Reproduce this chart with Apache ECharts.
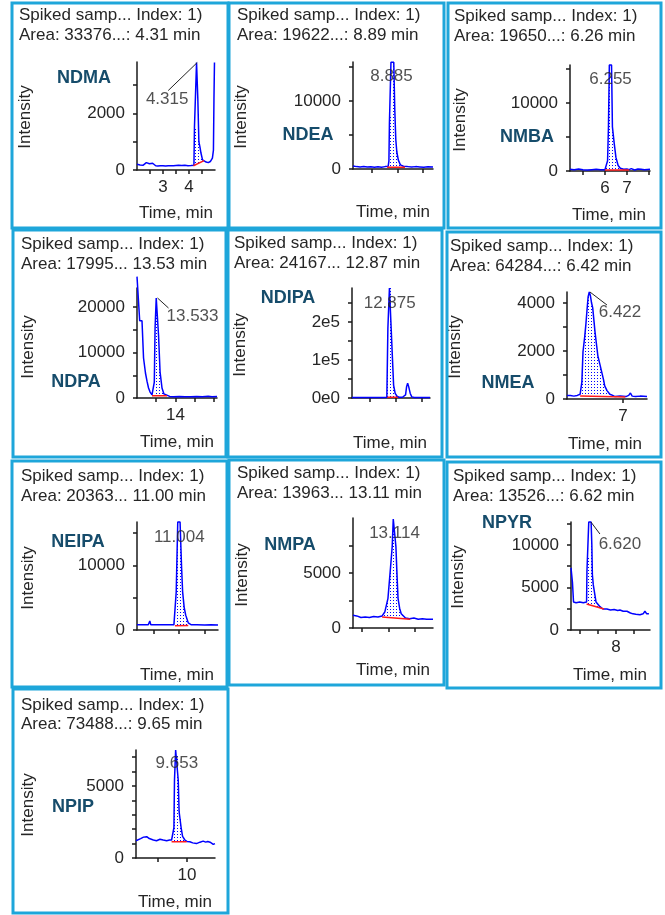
<html>
<head>
<meta charset="utf-8">
<script src="https://cdn.jsdelivr.net/npm/echarts@6/dist/echarts.min.js"></script>
</head>
<body>
<style>
    html, body, #main {
        width: 665px;
        height: 915px;
        margin: 0;
        background: #fff;
    }
</style>
<div id="main"></div>
<script>
// ---- data (time in min, intensity in cps) ----
var names = ['NDMA', 'NDEA', 'NMBA', 'NDPA', 'NDIPA', 'NMEA', 'NEIPA', 'NMPA', 'NPYR', 'NPIP'];
var headLine1 = 'Spiked samp... Index: 1)';
var headLine2 = ['Area: 33376...: 4.31 min', 'Area: 19622...: 8.89 min', 'Area: 19650...: 6.26 min',
    'Area: 17995... 13.53 min', 'Area: 24167... 12.87 min', 'Area: 64284...: 6.42 min',
    'Area: 20363... 11.00 min', 'Area: 13963... 13.11 min', 'Area: 13526...: 6.62 min',
    'Area: 73488...: 9.65 min'];

var ndmaTime = [2.0, 2.06, 2.12, 2.18, 2.24, 2.3, 2.36, 2.42, 2.48, 2.54, 2.6, 2.66, 2.72, 2.8, 2.9, 3.0, 3.1, 3.2, 3.3, 3.4, 3.5, 3.6, 3.66, 3.72, 3.78, 3.84, 3.9, 3.96, 4.02, 4.08, 4.14, 4.19, 4.21, 4.25, 4.29, 4.32, 4.34, 4.36, 4.38, 4.42, 4.46, 4.52, 4.58, 4.66, 4.74, 4.82, 4.9, 4.94, 4.96, 4.98, 5.0];
var ndmaInt = [200, 240, 180, 250, 170, 230, 260, 190, 220, 160, 240, 200, 150, 140, 150, 150, 140, 150, 150, 150, 160, 170, 230, 160, 210, 170, 220, 150, 190, 160, 200, 170, 1500, 1450, 3800, 3800, 2500, 2450, 1000, 820, 600, 360, 300, 280, 260, 300, 420, 700, 2500, 3800, 3800];
var ndmaBaseTime = [4.17, 4.58], ndmaBaseInt = [150, 330];
var ndmaApex = [4.315, 3800];

var ndeaTime = [8.13, 8.2, 8.27, 8.34, 8.41, 8.48, 8.55, 8.62, 8.69, 8.76, 8.82, 8.835, 8.845, 8.865, 8.875, 8.93, 8.95, 8.97, 8.99, 9.02, 9.06, 9.12, 9.2, 9.28, 9.36, 9.44, 9.52, 9.6, 9.7];
var ndeaInt = [450, 350, 300, 380, 280, 320, 260, 330, 270, 350, 400, 1200, 6800, 6900, 15700, 15700, 8700, 4300, 2500, 1300, 600, 400, 350, 280, 350, 300, 250, 320, 300];
var ndeaBaseTime = [8.80, 9.15], ndeaBaseInt = [250, 250];
var ndeaApex = [8.885, 15700];

var nmbaTime = [4.41, 4.6, 4.8, 5.0, 5.2, 5.4, 5.6, 5.8, 6.0, 6.08, 6.12, 6.16, 6.2, 6.3, 6.34, 6.42, 6.5, 6.6, 6.7, 6.85, 7.0, 7.1, 7.2, 7.35, 7.5, 7.65, 7.8, 8.05];
var nmbaInt = [250, 200, 280, 200, 150, 200, 250, 180, 200, 400, 1500, 6500, 15600, 15600, 6500, 4100, 2000, 800, 400, 250, 300, 200, 350, 150, 300, 250, 200, 250];
var nmbaBaseTime = [6.0, 7.1], nmbaBaseInt = [150, 150];
var nmbaApex = [6.255, 15600];

var ndpaTime = [13.0, 13.04, 13.07, 13.13, 13.17, 13.22, 13.26, 13.3, 13.34, 13.39, 13.43, 13.45, 13.47, 13.50, 13.54, 13.56, 13.60, 13.65, 13.7, 13.75, 13.85, 13.95, 14.1, 14.25, 14.4, 14.55, 14.7, 14.85, 14.95, 15.08];
var ndpaInt = [26700, 26500, 17000, 17000, 8800, 5500, 3700, 2200, 1300, 700, 700, 3500, 15400, 22000, 22000, 13800, 5700, 2200, 900, 500, 350, 300, 320, 300, 280, 350, 300, 400, 280, 350];
var ndpaBaseTime = [13.39, 13.78], ndpaBaseInt = [500, 500];
var ndpaApex = [13.533, 22000];

var ndipaTime = [12.15, 12.3, 12.45, 12.6, 12.75, 12.82, 12.84, 12.855, 12.87, 12.905, 12.925, 12.95, 12.98, 13.02, 13.06, 13.12, 13.18, 13.2, 13.22, 13.24, 13.27, 13.3, 13.35, 13.45, 13.55, 13.65];
var ndipaInt = [1500, 1500, 1500, 1500, 1600, 2000, 184000, 184000, 290000, 290000, 113000, 34000, 12000, 4000, 2000, 2000, 8000, 30000, 39000, 30000, 12000, 3000, 1500, 1500, 1500, 1500];
var ndipaBaseTime = [12.83, 13.03], ndipaBaseInt = [2000, 2000];
var ndipaApex = [12.875, 290000];

var nmeaTime = [6.02, 6.08, 6.14, 6.2, 6.25, 6.28, 6.30, 6.33, 6.35, 6.37, 6.39, 6.41, 6.43, 6.45, 6.47, 6.49, 6.51, 6.54, 6.56, 6.6, 6.63, 6.66, 6.68, 6.72, 6.77, 6.82, 6.86, 6.95, 7.05, 7.1, 7.13, 7.16, 7.22, 7.3, 7.42];
var nmeaInt = [150, 150, 120, 150, 200, 700, 1970, 2600, 3100, 3700, 4270, 4460, 4300, 4000, 3800, 3300, 2800, 2200, 1800, 1400, 1100, 800, 550, 350, 200, 150, 100, 120, 100, 150, 250, 120, 100, 120, 100];
var nmeaBaseTime = [6.25, 7.04], nmeaBaseInt = [120, 80];
var nmeaApex = [6.422, 4460];

var neipaTime = [10.18, 10.3, 10.4, 10.42, 10.43, 10.45, 10.65, 10.78, 10.9, 10.93, 10.945, 10.96, 10.975, 11.02, 11.05, 11.07, 11.1, 11.13, 11.18, 11.24, 11.35, 11.5, 11.62, 11.76];
var neipaInt = [800, 800, 820, 800, 1400, 800, 800, 820, 800, 900, 5900, 5900, 16700, 16700, 9600, 5900, 3500, 2300, 1100, 800, 800, 780, 800, 780];
var neipaBaseTime = [10.92, 11.18], neipaBaseInt = [650, 700];
var neipaApex = [11.004, 16700];

var nmpaTime = [12.33, 12.4, 12.48, 12.56, 12.64, 12.72, 12.8, 12.88, 12.93, 12.99, 13.04, 13.07, 13.09, 13.12, 13.14, 13.16, 13.18, 13.21, 13.24, 13.32, 13.4, 13.48, 13.56, 13.64, 13.72, 13.84];
var nmpaInt = [1150, 1100, 950, 1000, 950, 1050, 1000, 1100, 1450, 2700, 5600, 7400, 9900, 9900, 7400, 4900, 2700, 1800, 1300, 900, 850, 900, 800, 850, 800, 800];
var nmpaBaseTime = [12.88, 13.41], nmpaBaseInt = [1000, 800];
var nmpaApex = [13.114, 9900];

var npyrTime = [5.52, 5.57, 5.6, 5.63, 5.66, 5.68, 5.8, 6.0, 6.2, 6.38, 6.4, 6.48, 6.5, 6.63, 6.67, 6.7, 6.75, 6.9, 7.12, 7.28, 7.5, 7.7, 7.9, 8.1, 8.22, 8.4, 8.61, 8.8, 8.94, 9.1, 9.33, 9.5, 9.6, 9.7, 9.82];
var npyrInt = [7300, 7300, 5600, 5600, 3300, 3200, 3200, 3300, 3200, 3300, 6900, 6900, 12700, 12700, 10000, 6500, 5300, 3300, 2740, 2470, 2470, 2350, 2400, 2300, 2350, 2200, 2200, 2000, 1900, 1850, 1800, 1900, 2200, 1900, 1900];
var npyrBaseTime = [6.38, 7.34], npyrBaseInt = [3060, 2470];
var npyrApex = [6.62, 12700];

var npipTime = [8.24, 8.27, 8.4, 8.5, 8.61, 8.7, 8.84, 8.95, 9.07, 9.18, 9.3, 9.4, 9.47, 9.52, 9.55, 9.57, 9.61, 9.67, 9.7, 9.73, 9.76, 9.8, 9.85, 9.93, 10.0, 10.1, 10.2, 10.33, 10.45, 10.56, 10.65, 10.72, 10.8, 10.91, 10.97];
var npipInt = [1200, 1250, 1350, 1450, 1480, 1350, 1250, 1200, 1300, 1250, 1200, 1250, 1250, 1300, 2100, 5400, 7500, 7500, 5400, 3200, 3200, 2100, 1500, 1250, 1150, 1130, 1050, 1000, 1100, 1170, 1100, 1150, 1100, 950, 1000];
var npipBaseTime = [9.47, 9.99], npipBaseInt = [1130, 1130];
var npipApex = [9.653, 7500];

// axis ticks and tick labels
var yTicks = [[0, 1000, 2000, 3000], [0, 5000, 10000, 15000], [0, 5000, 10000, 15000],
    [0, 5000, 10000, 15000, 20000], [0, 50000, 100000, 150000, 200000, 250000], [0, 1000, 2000, 3000, 4000],
    [0, 5000, 10000, 15000], [0, 2500, 5000, 7500], [0, 2500, 5000, 7500, 10000, 12500],
    [0, 1000, 2000, 3000, 4000, 5000, 6000, 7000]];
var yLabels = [[0, 2000], [0, 10000], [0, 10000], [0, 10000, 20000], [0, 100000, 200000], [0, 2000, 4000],
    [0, 10000], [0, 5000], [0, 5000, 10000], [0, 5000]];
var xTicks = [[2.5, 3, 3.5, 4, 4.5], [8.5, 9, 9.5], [5, 6, 7, 8], [13.5, 14, 14.5, 15], [12.5, 13, 13.5],
    [7], [10.5, 11, 11.5], [12.5, 13, 13.5], [6, 7, 8, 9], [9, 10]];
var xLabels = [[3, 4], [], [6, 7], [14], [], [7], [], [], [8], [10]];

var curves = [
    [ndmaTime, ndmaInt, ndmaBaseTime, ndmaBaseInt, ndmaApex],
    [ndeaTime, ndeaInt, ndeaBaseTime, ndeaBaseInt, ndeaApex],
    [nmbaTime, nmbaInt, nmbaBaseTime, nmbaBaseInt, nmbaApex],
    [ndpaTime, ndpaInt, ndpaBaseTime, ndpaBaseInt, ndpaApex],
    [ndipaTime, ndipaInt, ndipaBaseTime, ndipaBaseInt, ndipaApex],
    [nmeaTime, nmeaInt, nmeaBaseTime, nmeaBaseInt, nmeaApex],
    [neipaTime, neipaInt, neipaBaseTime, neipaBaseInt, neipaApex],
    [nmpaTime, nmpaInt, nmpaBaseTime, nmpaBaseInt, nmpaApex],
    [npyrTime, npyrInt, npyrBaseTime, npyrBaseInt, npyrApex],
    [npipTime, npipInt, npipBaseTime, npipBaseInt, npipApex]
];

// ---- layout of the 10 panels (pixels) and axis ranges ----
var layout = [
    {box: [12, 3, 216, 225], grid: [137, 62, 78, 108], x: [2.0, 5.0], y: [0, 3820], head: [19, 15, 35], inten: [25, 117], time: [176, 213], name: [84, 78], lab: [-30, 37], lead: [-29, 28]},
    {box: [229, 3, 215, 225], grid: [353, 62, 80, 107], x: [8.13, 9.70], y: [0, 15735], head: [237, 15, 35], inten: [241, 117], time: [393, 212], name: [308, 135], lab: [0, 14]},
    {box: [448, 3, 213, 225], grid: [570, 65, 80, 106], x: [4.41, 8.05], y: [0, 15600], head: [454, 16, 36], inten: [460, 120], time: [609, 215], name: [527, 137], lab: [0, 14]},
    {box: [13, 230, 213, 227], grid: [137, 288, 80, 110], x: [13.0, 15.08], y: [0, 24200], head: [21, 244, 264], inten: [28, 347], time: [177, 442], name: [76, 382], lab: [35, 18], lead: [11, 10]},
    {box: [228, 230, 214, 227], grid: [352, 288, 78, 110], x: [12.15, 13.65], y: [0, 290000], head: [234, 243, 263], inten: [240, 345], time: [390, 443], name: [288, 298], lab: [0, 15]},
    {box: [447, 232, 214, 225], grid: [567, 292, 80, 107], x: [6.02, 7.42], y: [0, 4460], head: [450, 246, 266], inten: [455, 347], time: [605, 444], name: [508, 383], lab: [30, 20], lead: [17, 13]},
    {box: [12, 461, 215, 226], grid: [137, 522, 81, 108], x: [10.18, 11.76], y: [0, 16700], head: [21, 476, 496], inten: [28, 578], time: [177, 675], name: [78, 542], lab: [0, 15]},
    {box: [229, 460, 215, 225], grid: [353, 518, 80, 110], x: [12.33, 13.84], y: [0, 10000], head: [237, 473, 493], inten: [242, 575], time: [393, 670], name: [290, 545], lab: [0, 14]},
    {box: [447, 462, 214, 226], grid: [571, 522, 79, 108], x: [5.52, 9.88], y: [0, 12700], head: [453, 476, 496], inten: [458, 577], time: [610, 675], name: [507, 523], lab: [29, 22], lead: [9, 12]},
    {box: [13, 689, 215, 224], grid: [136, 750, 79, 108], x: [8.24, 10.97], y: [0, 7500], head: [21, 705, 724], inten: [28, 805], time: [175, 902], name: [73, 807], lab: [0, 13]}
];

var FONT = '"Liberation Sans", Arial, sans-serif';
var TXT = '#262626';

function interp(ts, vs, t) {
    for (var k = 1; k < ts.length; k++) {
        if (t <= ts[k]) {
            var f = (t - ts[k - 1]) / (ts[k] - ts[k - 1]);
            return vs[k - 1] + f * (vs[k] - vs[k - 1]);
        }
    }
    return vs[vs.length - 1];
}

function pointIn(poly, x, y) {
    var inside = false;
    for (var a = 0, b = poly.length - 1; a < poly.length; b = a++) {
        var xa = poly[a][0], ya = poly[a][1], xb = poly[b][0], yb = poly[b][1];
        if ((ya > y) !== (yb > y) && x < (xb - xa) * (y - ya) / (yb - ya) + xa) inside = !inside;
    }
    return inside;
}

function plainNum(v) { return String(v); }
function sciFmt(v) { return v === 0 ? '0e0' : (v / 100000) + 'e5'; }

var grids = [], xAxes = [], yAxes = [], series = [];

layout.forEach(function (L, i) {
    var c = curves[i];
    var ts = c[0], vs = c[1], bt = c[2], bv = c[3], apex = c[4];
    grids.push({left: L.grid[0], top: L.grid[1], width: L.grid[2], height: L.grid[3], outerBoundsMode: 'none'});

    var axisLine = {show: true, onZero: false, lineStyle: {color: '#1a1a1a', width: 1.5}};
    xAxes.push({
        type: 'value', gridIndex: i, min: L.x[0], max: L.x[1],
        axisLine: axisLine,
        axisTick: {show: true, customValues: xTicks[i], length: 4, lineStyle: {color: '#1a1a1a', width: 1.5}},
        axisLabel: {show: xLabels[i].length > 0, customValues: xLabels[i], margin: 9,
            fontSize: 17, fontFamily: FONT, color: TXT, formatter: plainNum},
        splitLine: {show: false}
    });
    yAxes.push({
        type: 'value', gridIndex: i, min: L.y[0], max: L.y[1],
        axisLine: axisLine,
        axisTick: {show: true, customValues: yTicks[i], length: 4, lineStyle: {color: '#1a1a1a', width: 1.5}},
        axisLabel: {show: true, customValues: yLabels[i], margin: 12, fontSize: 17, fontFamily: FONT, color: TXT,
            formatter: i === 4 ? sciFmt : plainNum},
        splitLine: {show: false}
    });

    // dotted area between the red baseline and the peak
    var ft = [bt[0]];
    ts.forEach(function (t) { if (t > bt[0] && t < bt[1]) ft.push(t); });
    ft.push(bt[1]);
    series.push({
        type: 'custom', xAxisIndex: i, yAxisIndex: i, silent: true, z: 1,
        data: [[bt[0], bv[0]]],
        renderItem: function (params, api) {
            var poly = [];
            ft.forEach(function (t) { poly.push(api.coord([t, interp(ts, vs, t)])); });
            ft.slice().reverse().forEach(function (t) { poly.push(api.coord([t, interp(bt, bv, t)])); });
            var x0 = Infinity, x1 = -Infinity, y0 = Infinity, y1 = -Infinity;
            poly.forEach(function (p) {
                x0 = Math.min(x0, p[0]); x1 = Math.max(x1, p[0]);
                y0 = Math.min(y0, p[1]); y1 = Math.max(y1, p[1]);
            });
            var dots = [];
            for (var yy = Math.floor(y0 / 3) * 3; yy <= y1; yy += 3) {
                for (var xx = Math.floor(x0 / 3) * 3; xx <= x1; xx += 3) {
                    if (pointIn(poly, xx + 0.5, yy + 0.5)) {
                        dots.push({type: 'rect', shape: {x: xx, y: yy, width: 1, height: 1}, style: {fill: '#0000ff'}});
                    }
                }
            }
            return {type: 'group', children: dots};
        }
    });
    series.push({type: 'line', xAxisIndex: i, yAxisIndex: i, clip: false,
        data: ts.map(function (t, k) { return [t, vs[k]]; }),
        symbol: 'none', lineStyle: {color: '#0000ff', width: 1.5}, silent: true, z: 3});
    series.push({type: 'line', xAxisIndex: i, yAxisIndex: i,
        data: bt.map(function (t, k) { return [t, bv[k]]; }),
        symbol: 'none', lineStyle: {color: '#ff1a1a', width: 1.5}, silent: true, z: 4});
    series.push({type: 'scatter', xAxisIndex: i, yAxisIndex: i, data: [apex], symbolSize: 1,
        itemStyle: {color: 'rgba(0,0,0,0)'}, silent: true, z: 5,
        label: {show: true, position: 'inside', offset: L.lab, formatter: apex[0].toFixed(3),
            fontSize: 17, fontFamily: FONT, color: TXT}});
});

var chart = echarts.init(document.getElementById('main'));
chart.setOption({
    animation: false,
    backgroundColor: '#fff',
    grid: grids,
    xAxis: xAxes,
    yAxis: yAxes,
    series: series
});

// panel frames, texts and leader lines
var graphics = [];
layout.forEach(function (L, i) {
    graphics.push({type: 'rect', shape: {x: L.box[0], y: L.box[1], width: L.box[2], height: L.box[3]},
        style: {fill: 'none', stroke: '#1ea6da', lineWidth: 3}, z: 10});
    graphics.push({type: 'text', x: L.head[0], y: L.head[1],
        style: {text: headLine1, font: '17px ' + FONT, fill: TXT, align: 'left', verticalAlign: 'middle'}});
    graphics.push({type: 'text', x: L.head[0], y: L.head[2],
        style: {text: headLine2[i], font: '17px ' + FONT, fill: TXT, align: 'left', verticalAlign: 'middle'}});
    graphics.push({type: 'text', x: L.inten[0], y: L.inten[1], rotation: Math.PI / 2,
        style: {text: 'Intensity', font: '17px ' + FONT, fill: TXT, align: 'center', verticalAlign: 'middle'}});
    graphics.push({type: 'text', x: L.time[0], y: L.time[1],
        style: {text: 'Time, min', font: '17px ' + FONT, fill: TXT, align: 'center', verticalAlign: 'middle'}});
    graphics.push({type: 'text', x: L.name[0], y: L.name[1],
        style: {text: names[i], font: 'bold 18px ' + FONT, fill: '#164c6b', align: 'center', verticalAlign: 'middle'}});
    if (L.lead) {
        var p = chart.convertToPixel({xAxisIndex: i, yAxisIndex: i}, curves[i][4]);
        graphics.push({type: 'line', shape: {x1: p[0], y1: p[1], x2: p[0] + L.lead[0], y2: p[1] + L.lead[1]},
            style: {stroke: '#222', lineWidth: 1}, z: 6});
    }
});
chart.setOption({graphic: graphics});

window.onresize = chart.resize;
</script>
</body>
</html>
